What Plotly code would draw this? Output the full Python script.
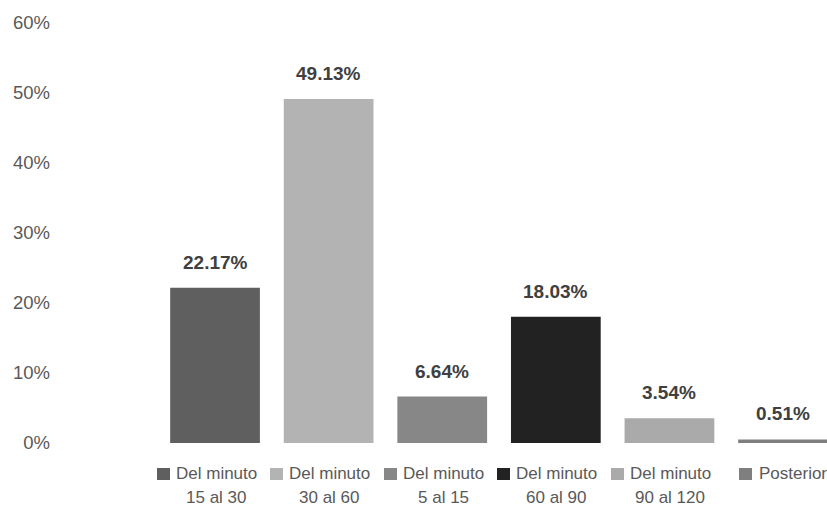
import plotly.graph_objects as go

categories = ["Del minuto<br>15 al 30", "Del minuto<br>30 al 60", "Del minuto<br>5 al 15",
              "Del minuto<br>60 al 90", "Del minuto<br>90 al 120", "Posterior"]
values = [22.17, 49.13, 6.64, 18.03, 3.54, 0.51]
colors = ["#5f5f5f", "#b3b3b3", "#878787", "#222222", "#aaaaaa", "#7f7f7f"]
y_ticks = [0, 10, 20, 30, 40, 50, 60]
y_tick_labels = ["0%", "10%", "20%", "30%", "40%", "50%", "60%"]

FONT = "Liberation Sans, Arial, sans-serif"
x_idx = list(range(len(categories)))

fig = go.Figure()
fig.add_trace(go.Bar(x=x_idx, y=values, marker=dict(color=colors, line=dict(width=0)),
                     showlegend=False, hoverinfo="skip"))

ann = []
for i, v in enumerate(values):
    ann.append(dict(x=i, y=v, xref="x", yref="y", text=f"<b>{v:.2f}%</b>", showarrow=False,
                    yanchor="bottom", yshift=13, font=dict(size=19, color="#404040", family=FONT)))
    lines = categories[i].split("<br>")
    single = len(lines) == 1
    for k, line in enumerate(lines):
        ann.append(dict(x=i, y=0, xref="x", yref="y", text=line, showarrow=False,
                        yanchor="middle", yshift=-30 - 24 * k, xshift=10 if single else 1,
                        borderpad=0,
                        font=dict(size=17, color="#595959", family=FONT)))
    ann.append(dict(x=i, y=0, xref="x", yref="y", text=" ", showarrow=False,
                    width=13, height=12, bgcolor=colors[i], borderpad=0, borderwidth=0,
                    xanchor="center", yanchor="middle",
                    xshift=-38 if single else -52, yshift=-31,
                    font=dict(size=1)))

fig.update_layout(
    width=827, height=507,
    margin=dict(l=51, r=0, t=23, b=64),
    paper_bgcolor="white", plot_bgcolor="white",
    bargap=0.21,
    annotations=ann,
    font=dict(family=FONT, color="#595959"),
    xaxis=dict(range=[-1.444, 5.387], showticklabels=False, showgrid=False, zeroline=False,
               showline=False, ticks=""),
    yaxis=dict(range=[0, 60], tickvals=y_ticks, ticktext=y_tick_labels, showgrid=False,
               zeroline=False, showline=False, ticks="",
               tickfont=dict(size=18.5, color="#595959", family=FONT)),
)
fig.write_html("out.html", config={"displayModeBar": False},
               post_script="document.body.style.margin='0';")
